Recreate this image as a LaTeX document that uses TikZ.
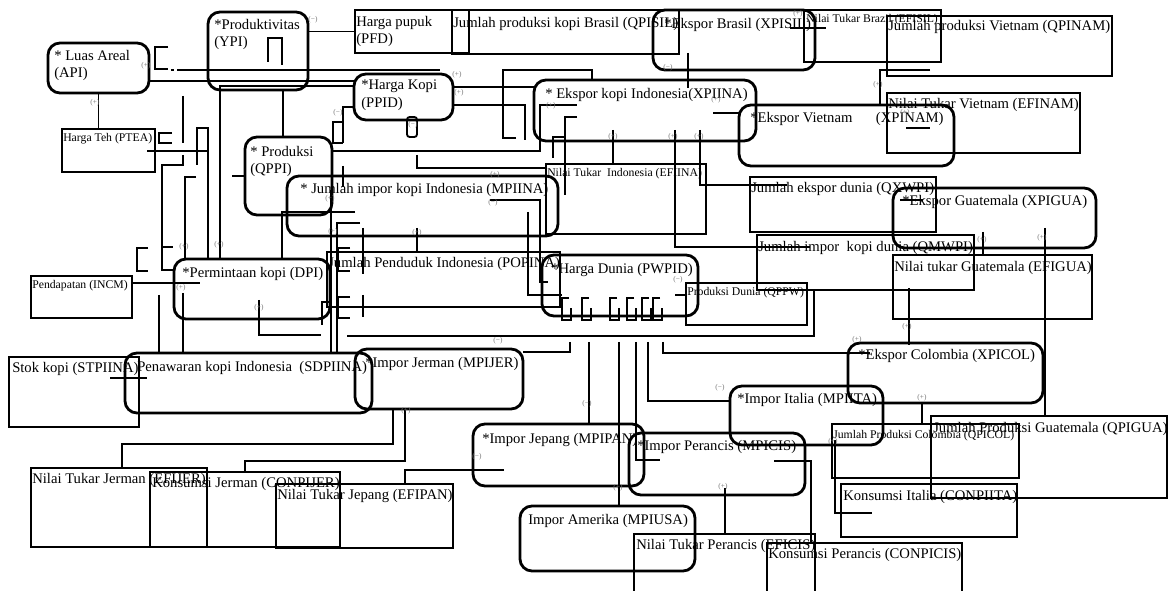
\documentclass[tikz,border=0pt]{standalone}
\usepackage{fontspec}
\setmainfont{Liberation Serif}
\usetikzlibrary{fit}

\begin{document}
\begin{tikzpicture}[x=0.75pt,y=0.75pt,yscale=-1,xscale=1,
  rbox/.style={draw,line width=2.1pt,rounded corners=9pt,inner sep=0pt},
  tbox/.style={draw,line width=1.4pt,inner sep=0pt},
  txt/.style={inner sep=0pt,anchor=north west,align=left,font=\fontsize{11}{12.8}\selectfont},
  stxt/.style={inner sep=0pt,anchor=north west,align=left,font=\fontsize{8.8}{10}\selectfont},
  sgn/.style={inner sep=0pt,text=black!55,font=\fontsize{5.5}{6}\selectfont},
  ln/.style={line width=1.4pt}]
\useasboundingbox (0,0) rectangle (1172,591);

%Rounded boxes
\node [rbox, fit={(48,43) (149,93)}] (api) {};
\node [rbox, fit={(208,12) (308,90)}] (ypi) {};
\node [rbox, fit={(354,74) (453,120)}] (ppid) {};
\node [rbox, fit={(653,10) (815,70)}] (xpisil) {};
\node [rbox, fit={(534,80) (756,141)}] (xpiina) {};
\node [rbox, fit={(739,105) (954,166)}] (xpinam) {};
\node [rbox, fit={(245,137) (332,215)}] (qppi) {};
\node [rbox, fit={(287,176) (558,236)}] (mpiina) {};
\node [rbox, fit={(174,259) (330,319)}] (dpi) {};
\node [rbox, fit={(542,255) (698,316)}] (pwpid) {};
\node [rbox, fit={(125,353) (372,413)}] (sdpiina) {};
\node [rbox, fit={(355,349) (523,409)}] (mpijer) {};
\node [rbox, fit={(893,188) (1096,248)}] (xpigua) {};
\node [rbox, fit={(848,343) (1043,403)}] (xpicol) {};
\node [rbox, fit={(730,386) (883,445)}] (mpiita) {};
\node [rbox, fit={(473,424) (644,486)}] (mpipan) {};
\node [rbox, fit={(629,433) (805,495)}] (mpicis) {};
\node [rbox, fit={(520,506) (695,571)}] (mpiusa) {};

%Plain boxes
\node [tbox, fit={(355,10) (469,53)}] (pfd) {};
\node [tbox, fit={(452,10) (679,54)}] (qpisil) {};
\node [tbox, fit={(804,10) (941,62)}] (efisil) {};
\node [tbox, fit={(887,16) (1112,76)}] (qpinam) {};
\node [tbox, fit={(887,93) (1080,153)}] (efinam) {};
\node [tbox, fit={(62,129) (155,172)}] (ptea) {};
\node [tbox, fit={(546,164) (706,234)}] (efiina) {};
\node [tbox, fit={(750,177) (936,232)}] (qxwpi) {};
\node [tbox, fit={(757,235) (974,290)}] (qmwpi) {};
\node [tbox, fit={(893,255) (1092,319)}] (efigua) {};
\node [tbox, fit={(327,252) (560,307)}] (popina) {};
\node [tbox, fit={(686,283) (807,325)}] (qppw) {};
\node [tbox, fit={(9,357) (139,427)}] (stpiina) {};
\node [tbox, fit={(31,276) (132,318)}] (incm) {};
\node [tbox, fit={(31,468) (207,547)}] (efijer) {};
\node [tbox, fit={(150,472) (340,547)}] (conpijer) {};
\node [tbox, fit={(276,484) (453,548)}] (efipan) {};
\node [tbox, fit={(634,534) (815,600)}] (eficis) {};
\node [tbox, fit={(767,543) (962,600)}] (conpicis) {};
\node [tbox, fit={(832,424) (1019,478)}] (qpicol) {};
\node [tbox, fit={(931,416) (1167,498)}] (qpigua) {};
\node [tbox, fit={(841,484) (1017,537)}] (conpiita) {};

% Text Node
\node [txt] (api-t) at (54,50) {* Luas Areal\\(API)};
\node [txt] (ypi-t) at (214,19) {*Produktivitas\\(YPI)};
\node [txt] (ppid-t) at (361,80) {*Harga Kopi\\(PPID)};
\node [txt] (xpisil-t) at (664,18) {*Ekspor Brasil (XPISIL)};
\node [txt] (xpiina-t) at (545,88) {* Ekspor kopi Indonesia(XPIINA)};
\node [txt] (xpinam-t) at (750,112) {*Ekspor Vietnam\hspace{1.6em}(XPINAM)};
\node [txt] (qppi-t) at (250,146) {* Produksi\\(QPPI)};
\node [txt] (mpiina-t) at (300,183) {* Jumlah impor kopi Indonesia (MPIINA)};
\node [txt] (dpi-t) at (182,267) {*Permintaan kopi (DPI)};
\node [txt] (pwpid-t) at (551,263) {*Harga Dunia (PWPID)};
\node [txt] (sdpiina-t) at (137,361) {Penawaran kopi Indonesia\hspace{0.5em}(SDPIINA)};
\node [txt] (mpijer-t) at (365,357) {*Impor Jerman (MPIJER)};
\node [txt] (xpigua-t) at (902,195) {*Ekspor Guatemala (XPIGUA)};
\node [txt] (xpicol-t) at (858,349) {*Ekspor Colombia (XPICOL)};
\node [txt] (mpiita-t) at (737,393) {*Impor Italia (MPIITA)};
\node [txt] (mpipan-t) at (482,433) {*Impor Jepang (MPIPAN)};
\node [txt] (mpicis-t) at (637,440) {*Impor Perancis (MPICIS)};
\node [txt] (mpiusa-t) at (528,514) {Impor Amerika (MPIUSA)};
\node [txt] (pfd-t) at (356,16) {Harga pupuk\\(PFD)};
\node [txt] (qpisil-t) at (453,17) {Jumlah produksi kopi Brasil (QPISIL)};
\node [stxt] (efisil-t) at (806,14) {Nilai Tukar Brazil (EFISIL)};
\node [txt] (qpinam-t) at (888,20) {Jumlah produksi Vietnam (QPINAM)};
\node [txt] (efinam-t) at (888,98) {Nilai Tukar Vietnam (EFINAM)};
\node [stxt] (ptea-t) at (63,133) {Harga Teh (PTEA)};
\node [stxt] (efiina-t) at (547,168) {Nilai Tukar\enspace Indonesia (EFIINA)};
\node [txt] (qxwpi-t) at (751,182) {Jumlah ekspor dunia (QXWPI)};
\node [txt] (qmwpi-t) at (758,241) {Jumlah impor\enspace kopi dunia (QMWPI)};
\node [txt] (efigua-t) at (894,261) {Nilai tukar Guatemala (EFIGUA)};
\node [txt] (popina-t) at (328,257) {Jumlah Penduduk Indonesia (POPINA)};
\node [stxt] (qppw-t) at (687,287) {Produksi Dunia (QPPW)};
\node [txt] (stpiina-t) at (12,362) {Stok kopi (STPIINA)};
\node [stxt] (incm-t) at (32,280) {Pendapatan (INCM)};
\node [txt] (efijer-t) at (32,473) {Nilai Tukar Jerman (EFIJER)};
\node [txt] (conpijer-t) at (152,477) {Konsumsi Jerman (CONPIJER)};
\node [txt] (efipan-t) at (277,489) {Nilai Tukar Jepang (EFIPAN)};
\node [txt] (eficis-t) at (636,539) {Nilai Tukar Perancis (EFICIS)};
\node [txt] (conpicis-t) at (768,548) {Konsumsi Perancis (CONPICIS)};
\node [stxt] (qpicol-t) at (833,430) {Jumlah Produksi Colombia (QPICOL)};
\node [txt] (qpigua-t) at (933,422) {Jumlah Produksi Guatemala (QPIGUA)};
\node [txt] (conpiita-t) at (843,490) {Konsumsi Italia (CONPIITA)};

%Connectors top left
\draw[ln] (api.south) -- (api.south |- ptea.north);
\draw[ln] (ypi.east |- pfd.west) -- (pfd.west);
\draw[ln] (168,47) -- (155,47) -- (155,69) -- (168,69);
\draw[ln] (171,70) -- (174,70);
\draw[ln] (177,70) -- (440,70);
\draw[ln] (149,81) -- (354,81);
\draw[ln] (354,86) -- (220,86) -- (220,259);
\draw[ln] (283,90) -- (283,137);
\draw[ln] (268,62) -- (268,38) -- (282,38) -- (282,65);
\draw[ln] (453,87) -- (534,87);
\draw[ln] (453,105) -- (525,105) -- (525,140);
\draw[ln,rounded corners=2pt] (407,117) rectangle (417,137);
\draw[ln] (417,155) -- (417,168) -- (efiina.west |- 0,168);
\draw[ln] (354,107) -- (343,107) -- (343,143);
\draw[ln] (343,122) -- (333,122) -- (333,143) -- (343,143);
\draw[ln] (516,138) -- (503,138) -- (503,70) -- (592,70) -- (592,80);
\draw[ln] (332,151) -- (540,151) -- (540,105) -- (577,105);
\draw[ln] (577,117) -- (565,117) -- (565,195);
\draw[ln] (553,158) -- (553,137) -- (565,137);
\draw[ln] (613,130) -- (613,164);
\draw[ln] (675,130) -- (675,247) -- (810,247);
\draw[ln] (700,130) -- (700,185) -- (787,185);
\draw[ln] (713,113) -- (739,113);
\draw[ln] (688,53) -- (688,88);
\draw[ln] (790,28) -- (826,28);
\draw[ln] (930,70) -- (880,70) -- (880,105);
\draw[ln] (906,128) -- (930,128);

%Connectors left column
\draw[ln] (172,133) -- (159,133) -- (159,143) -- (172,143);
\draw[ln] (147,151) -- (208,151);
\draw[ln] (197,165) -- (197,128) -- (208,128) -- (208,259);
\draw[ln] (183,96) -- (183,143);
\draw[ln] (183,155) -- (183,165) -- (162,165) -- (162,270) -- (173,270);
\draw[ln] (162,247) -- (173,247);
\draw[ln] (148,248) -- (137,248) -- (137,271) -- (148,271);
\draw[ln] (196,177) -- (185,177) -- (185,259);
\draw[ln] (232,176) -- (245,176);
\draw[ln] (343,166) -- (343,187);
\draw[ln] (355,212) -- (282,212) -- (282,259);
\draw[ln] (331,190) -- (331,353);
\draw[ln] (360,223) -- (337,223) -- (337,353);
\draw[ln] (350,248) -- (338,248) -- (338,271) -- (350,271);
\draw[ln] (350,297) -- (338,297) -- (338,318) -- (350,318);
\draw[ln] (363,228) -- (363,274);
\draw[ln] (363,295) -- (363,317);
\draw[ln] (322,325) -- (322,302) -- (331,302);
\draw[ln] (259,300) -- (259,335) -- (321,335);
\draw[ln] (incm.east |- 0,283) -- (200,283);
\draw[ln] (159,295) -- (159,353);
\draw[ln] (183,293) -- (183,353);
\draw[ln] (110,378) -- (147,378);

%Connectors centre
\draw[ln] (417,228) -- (417,252);
\draw[ln] (490,200) -- (540,200) -- (540,282) -- (548,282);
\draw[ln] (528,212) -- (528,295) -- (562,295);
\foreach \gx in {562,582,610,627,642,653}
  \draw[ln] (\gx+7,298) -- (\gx,298) -- (\gx,320) -- (\gx+9,320) -- (\gx+9,308);
\draw[ln] (675,295) -- (686,295);
\draw[ln] (347,336) -- (814,336) -- (814,290);
\draw[ln] (570,342) -- (570,352) -- (523,352);
\draw[ln] (589,342) -- (589,424);
\draw[ln] (619,342) -- (619,506);
\draw[ln] (636,342) -- (636,460) -- (660,460);
\draw[ln] (648,342) -- (648,401) -- (730,401);
\draw[ln] (663,342) -- (663,353) -- (870,353);

%Connectors right
\draw[ln] (900,200) -- (923,200);
\draw[ln] (983,232) -- (983,255);
\draw[ln] (909,288) -- (909,345);
\draw[ln] (1045,228) -- (1045,416);
\draw[ln] (922,403) -- (922,424);
\draw[ln] (835,440) -- (835,513) -- (872,513);
\draw[ln] (774,461) -- (811,461) -- (811,543);
\draw[ln] (725,488) -- (725,534);

%Connectors bottom left
\draw[ln] (504,470) -- (405,470) -- (405,484);
\draw[ln] (405,409) -- (405,461) -- (245,461) -- (245,472);
\draw[ln] (393,409) -- (393,444) -- (122,444) -- (122,468);

%Signs
\foreach \sx/\sy/\st [count=\si] in {95/103/+, 313/20/−, 146/66/+, 219/245/+, 184/247/+,
  181/288/+, 259/308/+, 457/75/+, 459/93/+, 338/113/−, 413/125/−, 551/106/+, 613/137/+,
  673/137/+, 699/137/+, 668/68/−, 716/100/+, 798/14/+, 878/85/+, 905/113/+, 495/175/+,
  330/199/+, 333/232/+, 417/233/+, 493/203/−, 678/280/−, 498/341/−, 587/404/−, 618/488/+,
  720/388/−, 857/340/+, 982/240/+, 1042/238/+, 907/327/+, 922/398/+, 833/442/+, 723/487/+,
  477/457/−, 406/411/+}
  \node[sgn] (sg\si) at (\sx,\sy) {(\st)};

\end{tikzpicture}
\end{document}
